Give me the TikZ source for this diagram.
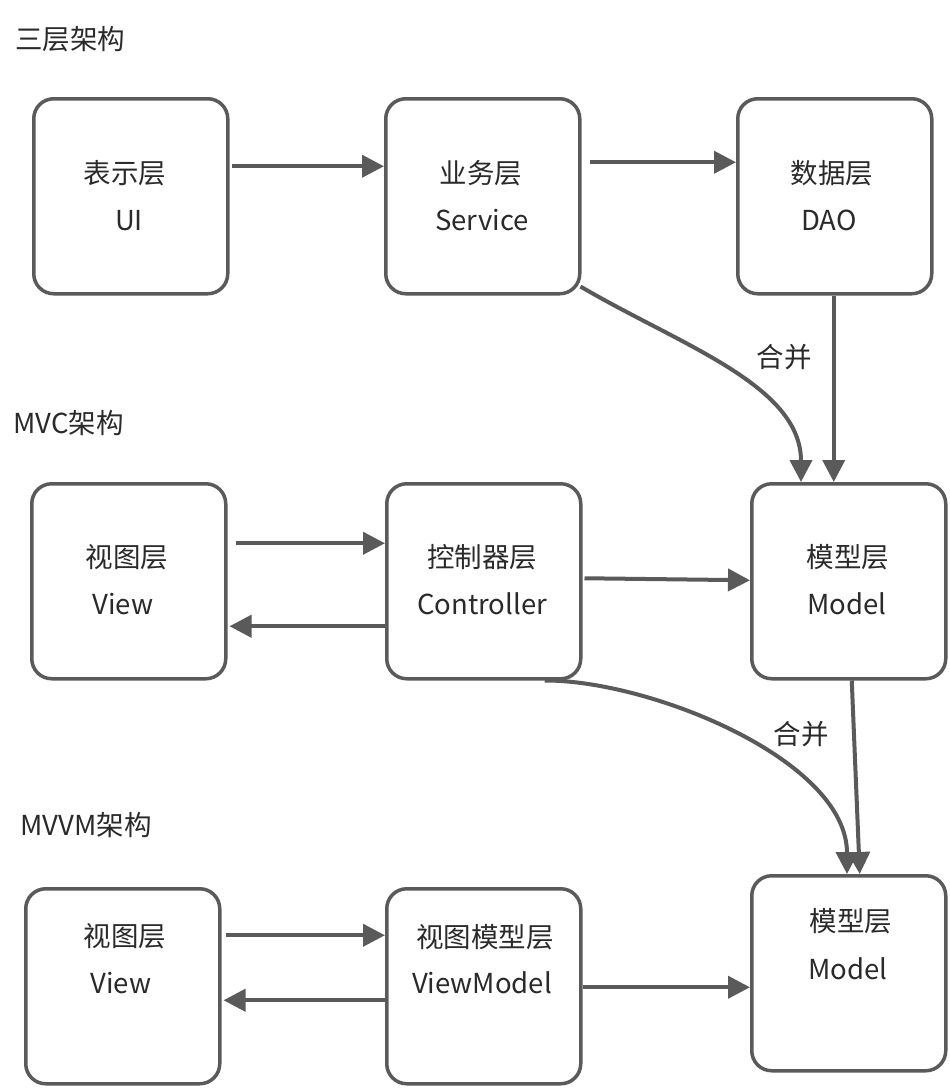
\documentclass[tikz,border=0pt]{standalone}
\usepackage{fontspec}
\setmainfont{Noto Sans CJK SC}
\usetikzlibrary{arrows.meta}
\definecolor{linegray}{HTML}{5A5A5A}
\definecolor{txt}{HTML}{2A2A2A}
\tikzset{
  layerbox/.style={draw=linegray, line width=3.5pt, rounded corners=20pt, fill=white,
    minimum width=194pt, minimum height=195pt, inner sep=0pt, anchor=north west},
  lbl/.style={font=\fontsize{27.5}{30}\selectfont, text=txt, inner sep=0pt, anchor=base},
  title/.style={lbl, anchor=base west},
  conn/.style={draw=linegray, line width=4pt, -{Triangle[length=22pt,width=22pt]}},
}
\begin{document}
\begin{tikzpicture}[x=1pt,y=-1pt]
\useasboundingbox[fill=white] (0,0) rectangle (950,1088);
% titles
\node[title] (t1) at (15,49) {三层架构};
\node[title] (t2) at (13,433) {MVC架构};
\node[title] (t3) at (20,835) {MVVM架构};
% row 1
\node[layerbox] (ui) at (32,97) {};
\node[layerbox] (svc) at (384,97) {};
\node[layerbox] (dao) at (736,97) {};
% row 2
\node[layerbox] (view2) at (30,482) {};
\node[layerbox] (ctrl) at (385,482) {};
\node[layerbox] (model2) at (750,482) {};
% row 3
\node[layerbox] (view3) at (24,887) {};
\node[layerbox] (vm) at (385,887) {};
\node[layerbox] (model3) at (750,874) {};
% texts
\node[lbl] (ui1) at (125,183) {表示层};
\node[lbl] (ui2) at (129,230) {UI};
\node[lbl] (svc1) at (481,183) {业务层};
\node[lbl] (svc2) at (482,230) {Service};
\node[lbl] (dao1) at (832,183) {数据层};
\node[lbl] (dao2) at (829,230) {DAO};
\node[lbl] (v21) at (127,567) {视图层};
\node[lbl] (v22) at (123,614) {View};
\node[lbl] (c1) at (482,567) {控制器层};
\node[lbl] (c2) at (482,614) {Controller};
\node[lbl] (m21) at (848,567) {模型层};
\node[lbl] (m22) at (847,614) {Model};
\node[lbl] (v31) at (125,946) {视图层};
\node[lbl] (v32) at (121,993) {View};
\node[lbl] (vm1) at (485,947) {视图模型层};
\node[lbl] (vm2) at (482,993) {ViewModel};
\node[lbl] (m31) at (851,931) {模型层};
\node[lbl] (m32) at (848,979) {Model};
\node[lbl] (merge1) at (784,367) {合并};
\node[lbl] (merge2) at (801,744) {合并};
% row 1 connectors
\draw[conn] ([xshift=2pt,yshift=30pt]ui.east) -- ([yshift=30pt]svc.west);
\draw[conn] ([xshift=8pt,yshift=34pt]svc.east) -- ([yshift=34pt]dao.west);
\draw[conn] ([xshift=-1pt,yshift=9pt]svc.south east) .. controls (680,345) and (801,385) .. ([xshift=51pt]model2.north west);
\draw[conn] ([xshift=-1pt]dao.south) -- ([xshift=-15pt]model2.north);
% row 2 connectors
\draw[conn] ([xshift=8pt,yshift=38pt]view2.east) -- ([yshift=38pt]ctrl.west);
\draw[conn] ([yshift=-45pt]ctrl.west) -- ([xshift=2pt,yshift=-45pt]view2.east);
\draw[conn] ([xshift=2pt,yshift=3pt]ctrl.east) -- ([yshift=1pt]model2.west);
\draw[conn] ([xshift=61pt]ctrl.south) .. controls (650,680) and (847,760) .. ([xshift=97pt]model3.north west);
\draw[conn] ([xshift=3pt]model2.south) -- ([xshift=11pt]model3.north);
% row 3 connectors
\draw[conn] ([xshift=4pt,yshift=51pt]view3.east) -- ([yshift=51pt]vm.west);
\draw[conn] ([yshift=-14pt]vm.west) -- ([xshift=2pt,yshift=-14pt]view3.east);
\draw[conn] ([yshift=-1pt]vm.east) -- ([yshift=-14pt]model3.west);
\end{tikzpicture}
\end{document}
